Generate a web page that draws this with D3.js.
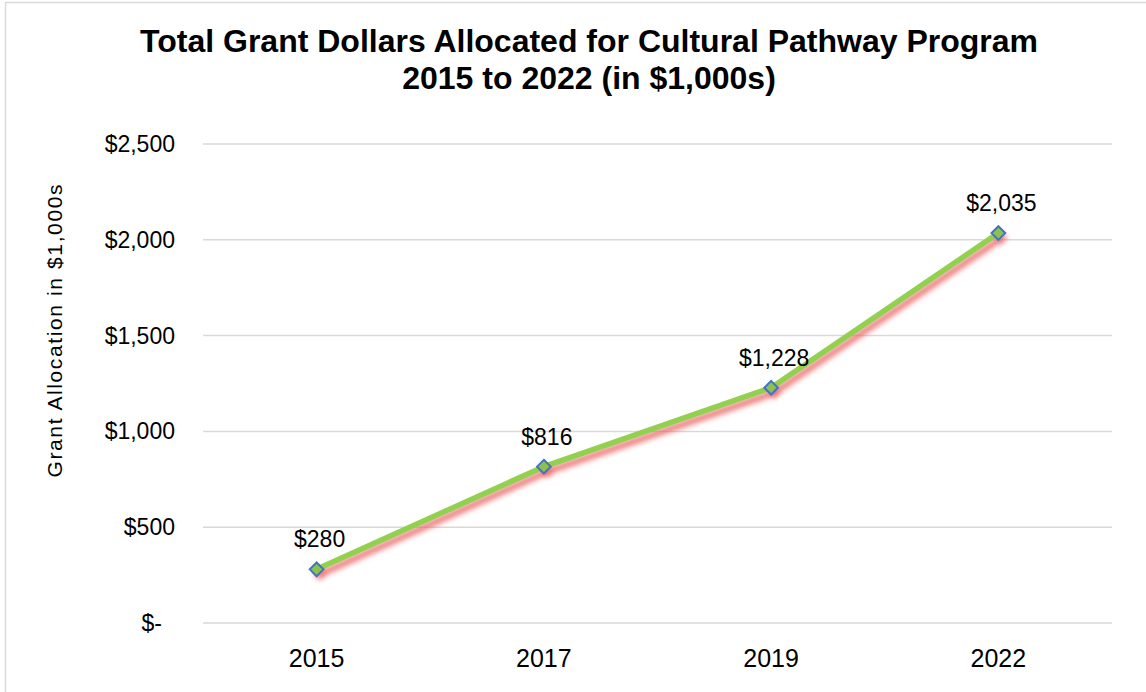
<!DOCTYPE html>
<html><head><meta charset="utf-8">
<script src="https://cdn.jsdelivr.net/npm/d3@7"></script>
<style>body{margin:0;background:#fff}svg{display:block}text{font-family:"Liberation Sans",Arial,sans-serif}</style>
</head><body>
<svg id="c" width="1146" height="692"></svg>
<script>
const years = ["2015","2017","2019","2022"];
const grants = [280, 816, 1228, 2035];
const yTicks = [0, 500, 1000, 1500, 2000, 2500];
const titleLines = ["Total Grant Dollars Allocated for Cultural Pathway Program", "2015 to 2022 (in $1,000s)"];
const yTitle = "Grant Allocation  in $1,000s";

const svg = d3.select("#c");
const m = {left: 203, right: 1112, top: 144, bottom: 623};

svg.append("rect").attr("x",5.5).attr("y",2.5).attr("width",1160).attr("height",700)
  .attr("fill","#fff").attr("stroke","#d9d9d9").attr("stroke-width",1.5);

const x = d3.scaleBand().domain(years).range([m.left, m.right]);
const y = d3.scaleLinear().domain([0,2500]).range([m.bottom, m.top]);

const defs = svg.append("defs");
const f = defs.append("filter").attr("id","sh").attr("x","-10%").attr("y","-10%").attr("width","130%").attr("height","130%");
f.append("feGaussianBlur").attr("stdDeviation",2.5);

// gridlines
svg.append("g").selectAll("line").data(yTicks).join("line")
  .attr("x1",m.left).attr("x2",m.right).attr("y1",d=>y(d)).attr("y2",d=>y(d))
  .attr("stroke","#d9d9d9").attr("stroke-width",1.5);

// y tick labels
const fmt = d => d===0 ? "$-" : "$" + d3.format(",")(d);
svg.append("g").selectAll("text").data(yTicks).join("text")
  .attr("x", d => d===0 ? 162 : 175).attr("y",d=>y(d)+8)
  .attr("text-anchor","end").attr("font-size",23).attr("fill","#000").text(fmt);

// x labels
svg.append("g").selectAll("text").data(years).join("text")
  .attr("x",d=>x(d)+x.bandwidth()/2).attr("y",667)
  .attr("text-anchor","middle").attr("font-size",25).attr("fill","#000").text(d=>d);

// y title
svg.append("text").attr("transform","translate(62,331) rotate(-90)")
  .attr("text-anchor","middle").attr("font-size",21).attr("fill","#000")
  .attr("textLength",293).attr("lengthAdjust","spacing").text(yTitle);

// title
svg.append("g").selectAll("text").data(titleLines).join("text")
  .attr("x",589).attr("y",(d,i)=>52+i*37).attr("text-anchor","middle")
  .attr("font-size",32).attr("font-weight","bold").attr("fill","#000").text(d=>d);

const pts = years.map((yr,i)=>({yr, v: grants[i]}));
const line = d3.line().x(d=>x(d.yr)+x.bandwidth()/2).y(d=>y(d.v));

// shadow
svg.append("path").datum(pts).attr("d",line).attr("fill","none")
  .attr("stroke","#e86060").attr("stroke-opacity",0.75).attr("stroke-width",7)
  .attr("transform","translate(3,5)").attr("filter","url(#sh)");
svg.append("path").datum(pts).attr("d",line).attr("fill","none")
  .attr("stroke","#92d050").attr("stroke-width",5.5).attr("stroke-linejoin","round");

// marker shadows
svg.append("g").selectAll("path").data(pts).join("path")
  .attr("d", d3.symbol().type(d3.symbolDiamond2).size(120))
  .attr("transform",d=>`translate(${x(d.yr)+x.bandwidth()/2+3},${y(d.v)+5})`)
  .attr("fill","#e86060").attr("opacity",0.6).attr("filter","url(#sh)");
svg.append("g").selectAll("path").data(pts).join("path")
  .attr("d", d3.symbol().type(d3.symbolDiamond2).size(120))
  .attr("transform",d=>`translate(${x(d.yr)+x.bandwidth()/2},${y(d.v)})`)
  .attr("fill","#8cc152").attr("stroke","#4472c4").attr("stroke-width",2);

// data labels
svg.append("g").selectAll("text").data(pts).join("text")
  .attr("x",d=>x(d.yr)+x.bandwidth()/2+3).attr("y",d=>y(d.v)-22)
  .attr("text-anchor","middle").attr("font-size",23).attr("fill","#000")
  .text(d=>"$"+d3.format(",")(d.v));
</script>
</body></html>
